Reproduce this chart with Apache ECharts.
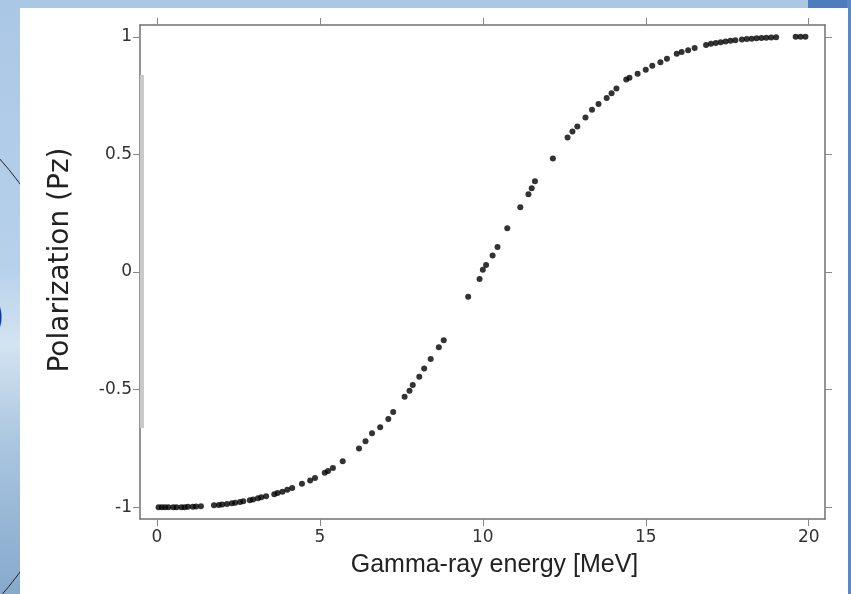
<!DOCTYPE html>
<html>
<head>
<meta charset="utf-8">
<script src="https://cdn.jsdelivr.net/npm/echarts@6/dist/echarts.min.js"></script>
<style>
  html, body { margin: 0; padding: 0; }
  body {
    width: 851px; height: 594px; overflow: hidden; position: relative;
    background: linear-gradient(180deg, #aac7e5 0%, #b7d1eb 45%, #d3e3f1 58%, #a9c5df 75%, #86a9cc 100%);
  }
  /* slide decorations behind the figure */
  #topright { position: absolute; left: 808px; top: 0; width: 43px; height: 10px; background: #4d7dbd; }
  #rightbar { position: absolute; left: 847px; top: 0; width: 4px; height: 594px; background: #5a88c4; }
  #ring { position: absolute; left: -574px; top: 49px; width: 656px; height: 656px;
          border: 1px solid #222; border-radius: 50%; }
  #paren { position: absolute; left: -10px; top: 290px; font: 42px "Liberation Sans"; color: #1f2a9c; }
  #panel { position: absolute; left: 20px; top: 8px; width: 828px; height: 586px; background: #fff; }
  #main { position: absolute; left: 0; top: 0; width: 851px; height: 594px; }
</style>
</head>
<body>
<div id="ring"></div>
<div id="paren">)</div>
<div id="topright"></div>
<div id="rightbar"></div>
<div id="panel"></div>
<div id="main"></div>
<script>
// gamma-ray energy (MeV) and polarization
var energy = [0.05, 0.15, 0.25, 0.35, 0.5, 0.6, 0.75, 0.85, 0.95, 1.1, 1.2, 1.35,
  1.75, 1.9, 2.0, 2.15, 2.3, 2.4, 2.55, 2.65, 2.85, 2.95, 3.1, 3.2, 3.35,
  3.6, 3.7, 3.85, 4.0, 4.15, 4.45, 4.7, 4.85, 5.15, 5.25, 5.4, 5.7,
  6.2, 6.4, 6.6, 6.85, 7.1, 7.25, 7.6, 7.75, 7.85, 8.05, 8.2, 8.4, 8.65, 8.8,
  9.55, 9.9, 10.0, 10.1, 10.3, 10.45, 10.75, 11.15, 11.4, 11.5, 11.6,
  12.15, 12.6, 12.75, 12.9, 13.15, 13.35, 13.55, 13.8, 13.95, 14.1, 14.4, 14.5,
  14.75, 15.0, 15.2, 15.45, 15.65, 15.95, 16.1, 16.3, 16.5, 16.85, 17.0, 17.15,
  17.3, 17.45, 17.6, 17.75, 17.95, 18.1, 18.25, 18.4, 18.55, 18.7, 18.85, 19.0,
  19.6, 19.75, 19.9];
var pz = [-1.0, -1.0, -1.0, -1.0, -1.0, -1.0, -1.0, -1.0, -0.998, -0.998, -0.997, -0.996,
  -0.992, -0.99, -0.988, -0.986, -0.983, -0.981, -0.978, -0.975, -0.97, -0.967, -0.962, -0.958, -0.953,
  -0.945, -0.94, -0.934, -0.926, -0.918, -0.9, -0.886, -0.876, -0.853, -0.846, -0.833, -0.805,
  -0.75, -0.72, -0.685, -0.66, -0.625, -0.595, -0.53, -0.505, -0.48, -0.445, -0.41, -0.37, -0.32, -0.29,
  -0.105, -0.03, 0.01, 0.03, 0.07, 0.106, 0.186, 0.275, 0.33, 0.356, 0.386,
  0.483, 0.572, 0.597, 0.619, 0.657, 0.69, 0.714, 0.74, 0.76, 0.78, 0.818, 0.826,
  0.843, 0.86, 0.877, 0.892, 0.907, 0.928, 0.935, 0.943, 0.952, 0.965, 0.97, 0.974,
  0.977, 0.98, 0.983, 0.985, 0.988, 0.99, 0.992, 0.994, 0.995, 0.996, 0.997, 0.998,
  1.0, 1.0, 1.0];

var xTicks = [0, 5, 10, 15, 20];
var yTicks = [-1, -0.5, 0, 0.5, 1];

var lineGrey = '#707070';
var tickFont = { fontFamily: 'DejaVu Sans', fontSize: 17, color: '#333' };

function frameAxis(pos, min, max, ticks, showLabels) {
  return {
    type: 'value', position: pos, min: min, max: max,
    axisLine: { show: true, onZero: false, lineStyle: { color: lineGrey, width: 1.5 } },
    axisTick: { show: true, customValues: ticks, length: 7, lineStyle: { color: '#888' } },
    axisLabel: Object.assign({ show: showLabels, customValues: ticks }, tickFont),
    splitLine: { show: false }
  };
}

var chart = echarts.init(document.getElementById('main'), null, { renderer: 'canvas' });

var xBottom = frameAxis('bottom', -0.52, 20.5, xTicks, true);
xBottom.axisLabel.margin = 10;
xBottom.name = 'Gamma-ray energy [MeV]';
xBottom.nameLocation = 'middle';
xBottom.nameGap = 34;
xBottom.nameTextStyle = { fontFamily: 'Liberation Sans', fontSize: 25, color: '#222', padding: [0, 0, 0, 24] };

var yLeft = frameAxis('left', -1.05, 1.05, yTicks, true);
yLeft.axisLabel.margin = 8;
yLeft.name = 'Polarization (Pz)';
yLeft.nameLocation = 'middle';
yLeft.nameGap = 65;
yLeft.nameTextStyle = { fontFamily: 'DejaVu Sans', fontSize: 28, color: '#222', padding: [0, 0, 0, 24] };

var option = {
  backgroundColor: 'transparent',
  animation: false,
  grid: { left: 140, right: 26, top: 25, bottom: 75 },
  xAxis: [xBottom, frameAxis('top', -0.52, 20.5, xTicks, false)],
  yAxis: [yLeft, frameAxis('right', -1.05, 1.05, yTicks, false)],
  graphic: [
    // light grey smear along the left frame, as in the scan
    { type: 'rect', left: 140, top: 75, shape: { width: 4, height: 353 }, style: { fill: '#c9c9c9' }, z: 1 }
  ],
  series: [{
    type: 'scatter',
    xAxisIndex: 0, yAxisIndex: 0,
    symbol: 'circle',
    symbolSize: 6,
    itemStyle: { color: '#000' },
    data: energy.map(function (e, i) { return [e, pz[i]]; })
  }]
};

chart.setOption(option);
</script>
</body>
</html>
